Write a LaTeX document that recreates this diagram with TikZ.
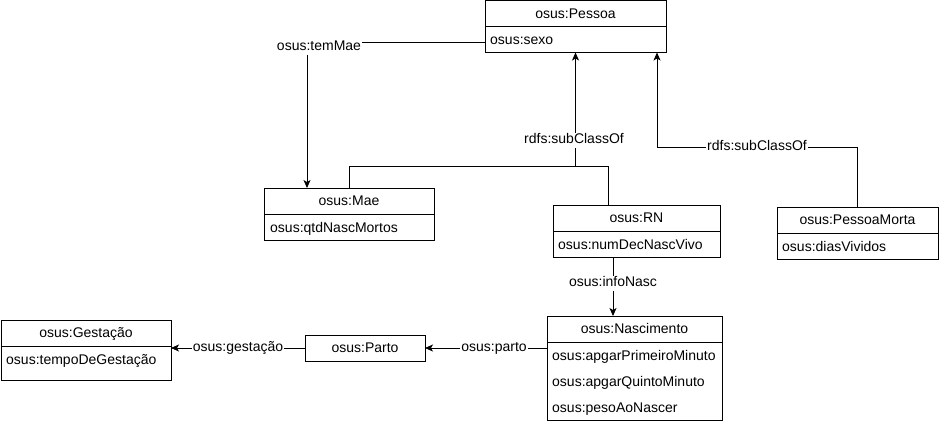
\documentclass[tikz,border=0pt]{standalone}
\usepackage{fontspec}
\setmainfont{Liberation Sans}
\usetikzlibrary{arrows.meta,calc}
\begin{document}
\begin{tikzpicture}[x=1pt,y=-1pt,
  box/.style={draw, line width=0.9pt, inner sep=0pt, outer sep=0pt, anchor=north west},
  txt/.style={font=\fontsize{14}{16}\selectfont, inner sep=0pt, text height=10pt, text depth=3pt},
  attr/.style={txt, anchor=west},
  lbl/.style={txt, fill=white, inner xsep=1pt, inner ysep=1pt},
  conn/.style={line width=0.9pt},
  arr/.style={conn, -{Stealth[length=8pt,width=7pt,inset=2pt]}}]
\useasboundingbox (0,0) rectangle (939,424);

% osus:Pessoa
\node[box, minimum width=181pt, minimum height=52pt] (pessoa) at (485,0.5) {};
\node[txt] (pessoaT) at (575.5,15) {osus:Pessoa};
\draw[conn] ($(pessoa.north west)+(0,25.5)$) -- ($(pessoa.north east)+(0,25.5)$);
\node[attr] (sexo) at (490,41) {osus:sexo};

% osus:Mae
\node[box, minimum width=170pt, minimum height=52pt] (mae) at (264,188) {};
\node[txt] (maeT) at (349,202) {osus:Mae};
\draw[conn] ($(mae.north west)+(0,26)$) -- ($(mae.north east)+(0,26)$);
\node[attr] (qtd) at (270,229) {osus:qtdNascMortos};

% osus:RN
\node[box, minimum width=167pt, minimum height=52pt] (rn) at (553,205) {};
\node[txt] (rnT) at (636.5,219) {osus:RN};
\draw[conn] ($(rn.north west)+(0,26)$) -- ($(rn.north east)+(0,26)$);
\node[attr] (numdec) at (558,246) {osus:numDecNascVivo};

% osus:PessoaMorta
\node[box, minimum width=161pt, minimum height=52pt] (morta) at (777,207) {};
\node[txt] (mortaT) at (857.5,221) {osus:PessoaMorta};
\draw[conn] ($(morta.north west)+(0,26)$) -- ($(morta.north east)+(0,26)$);
\node[attr] (dias) at (782,248) {osus:diasVividos};

% osus:Gestacao
\node[box, minimum width=170pt, minimum height=60pt] (gest) at (1,320) {};
\node[txt] (gestT) at (86,334) {osus:Gestação};
\draw[conn] ($(gest.north west)+(0,26)$) -- ($(gest.north east)+(0,26)$);
\node[attr] (tempo) at (6,361) {osus:tempoDeGestação};

% osus:Parto
\node[box, minimum width=120pt, minimum height=26pt] (parto) at (305,335) {};
\node[txt] (partoT) at (365,348.5) {osus:Parto};

% osus:Nascimento
\node[box, minimum width=175pt, minimum height=104pt] (nasc) at (547,316) {};
\node[txt] (nascT) at (634.5,330) {osus:Nascimento};
\draw[conn] ($(nasc.north west)+(0,26)$) -- ($(nasc.north east)+(0,26)$);
\node[attr] (apg1) at (552,356.5) {osus:apgarPrimeiroMinuto};
\node[attr] (apg5) at (552,382.5) {osus:apgarQuintoMinuto};
\node[attr] (peso) at (552,408.5) {osus:pesoAoNascer};

% connectors
\draw[arr] ($(pessoa.north west)+(0,42)$) -| ($(mae.north west)+(43,0)$);
\node[lbl] (temMaeL) at (319,47) {osus:temMae};

\draw[conn] ($(mae.north west)+(85,0)$) |- ($(rn.north west)+(55,-39)$) -- ($(rn.north west)+(55,0)$);
\draw[arr] (pessoa.south |- 0,166) -- (pessoa.south);
\node[lbl] (sub1) at (574,140) {rdfs:subClassOf};

\draw[arr] ($(morta.north west)+(80,0)$) |- ($(pessoa.south east)+(-9,95)$) -- ($(pessoa.south east)+(-9,0)$);
\node[lbl] (sub2) at (757,147) {rdfs:subClassOf};

\draw[arr] ($(rn.south west)+(60,0)$) -- ($(nasc.north west)+(66,0)$);
\node[lbl] (infoL) at (613,283) {osus:infoNasc};

\draw[arr] ($(nasc.north west)+(0,32)$) -- (parto.east);
\node[lbl] (partoL) at (494,348) {osus:parto};

\draw[arr] (parto.west) -- (gest.east |- parto.west);
\node[lbl] (gestL) at (238,348) {osus:gestação};
\end{tikzpicture}
\end{document}
